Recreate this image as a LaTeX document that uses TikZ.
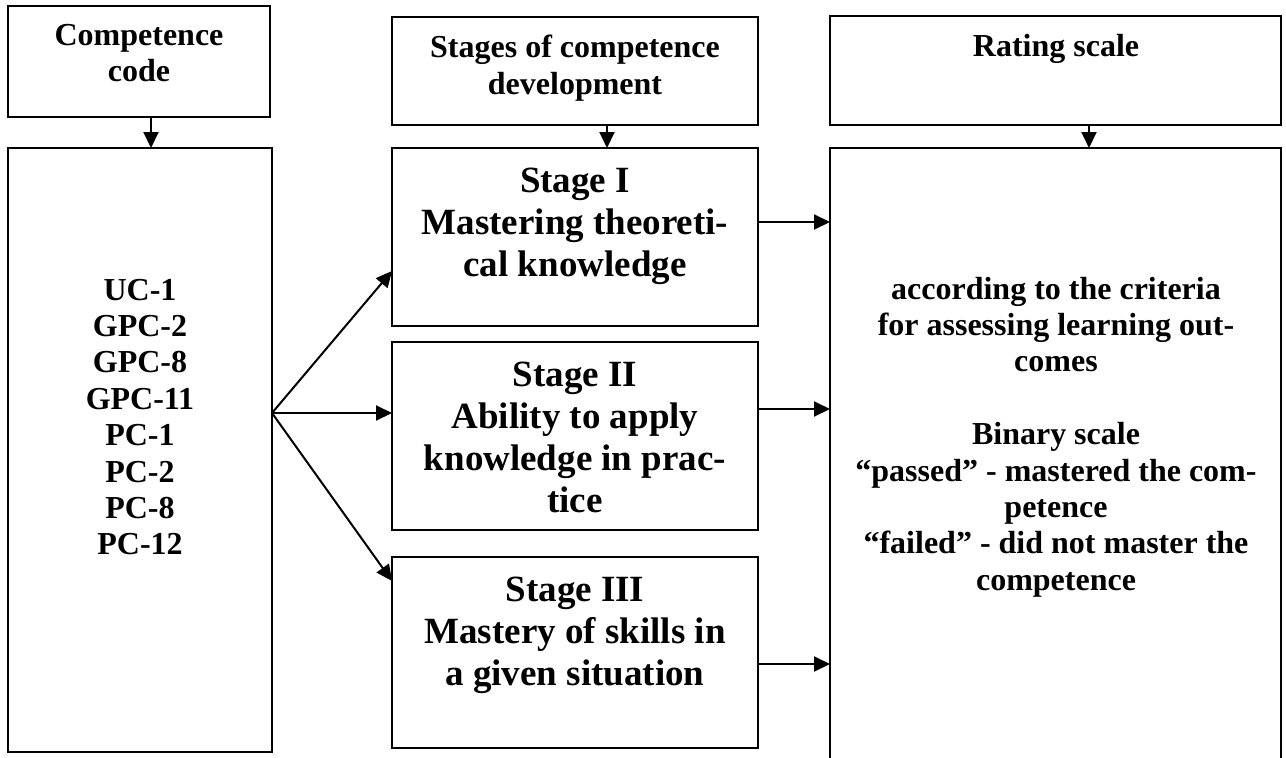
\documentclass[tikz,border=0pt]{standalone}
\usepackage{fontspec}
\setmainfont{Liberation Serif}
\usetikzlibrary{arrows.meta,calc}
\begin{document}
\begin{tikzpicture}[x=1pt,y=-1pt,
 box/.style={draw,line width=2pt,anchor=north west,inner sep=0pt,outer sep=0pt},
 arr/.style={line width=2pt,-{Triangle[length=16pt,width=15pt]}},
 small/.style={font=\fontsize{32}{36.4}\selectfont\bfseries,align=center,inner sep=0pt},
 big/.style={font=\fontsize{37}{42}\selectfont\bfseries,align=center,inner sep=0pt}]
\useasboundingbox (0,0) rectangle (1286,758);
% boxes
\node[box,minimum width=262pt,minimum height=111pt] (cc) at (8,6) {};
\node[box,minimum width=264pt,minimum height=604pt] (lst) at (8,148) {};
\node[box,minimum width=366pt,minimum height=108pt] (sc) at (392,17) {};
\node[box,minimum width=366pt,minimum height=178pt] (s1) at (392,148) {};
\node[box,minimum width=366pt,minimum height=188pt] (s2) at (392,342) {};
\node[box,minimum width=366pt,minimum height=191pt] (s3) at (392,557) {};
\node[box,minimum width=451pt,minimum height=109pt] (rt) at (830,16) {};
\node[box,minimum width=451pt,minimum height=620pt] (rs) at (830,148) {};
% texts
\node[small] (tcc) at (139,53) {Competence\\code};
\node[small] (tsc) at (575,68) {Stages of competence\\development};
\node[small] (trt) at (1056,49) {Rating scale};
\node[small] (tlst) at (140,417) {UC-1\\GPC-2\\GPC-8\\GPC-11\\PC-1\\PC-2\\PC-8\\PC-12};
\node[big] (ts1) at (575,226) {Stage I\\Mastering theoreti-\\cal knowledge};
\node[big] (ts2) at (575,437.5) {Stage II\\Ability to apply\\knowledge in prac-\\tice};
\node[big] (ts3) at (575,635) {Stage III\\Mastery of skills in\\a given situation};
\node[small] (trs) at (1056,437) {according to the criteria\\for assessing learning out-\\comes\\[36.4pt]Binary scale\\“passed” - mastered the com-\\petence\\“failed” - did not master the\\competence};
% vertical arrows
\draw[arr] (cc.south) ++(12,0) coordinate (a1) -- (a1 |- lst.north);
\draw[arr] (sc.south) ++(32,0) coordinate (a2) -- (a2 |- s1.north);
\draw[arr] (rt.south) ++(33.5,0) coordinate (a3) -- (a3 |- rs.north);
% fan
\coordinate (fan) at ($(lst.north east)+(0,265)$);
\draw[arr] (fan) -- ($(s1.south west)+(0,-55)$);
\draw[arr] (fan) -- (fan -| s2.west);
\draw[arr] (fan) -- ($(s3.north west)+(0,24)$);
% to rating
\coordinate (b1) at ($(s1.north east)+(0,74)$);
\coordinate (b2) at ($(s2.north east)+(0,67)$);
\coordinate (b3) at ($(s3.north east)+(0,107)$);
\draw[arr] (b1) -- (b1 -| rs.west);
\draw[arr] (b2) -- (b2 -| rs.west);
\draw[arr] (b3) -- (b3 -| rs.west);
\end{tikzpicture}
\end{document}
